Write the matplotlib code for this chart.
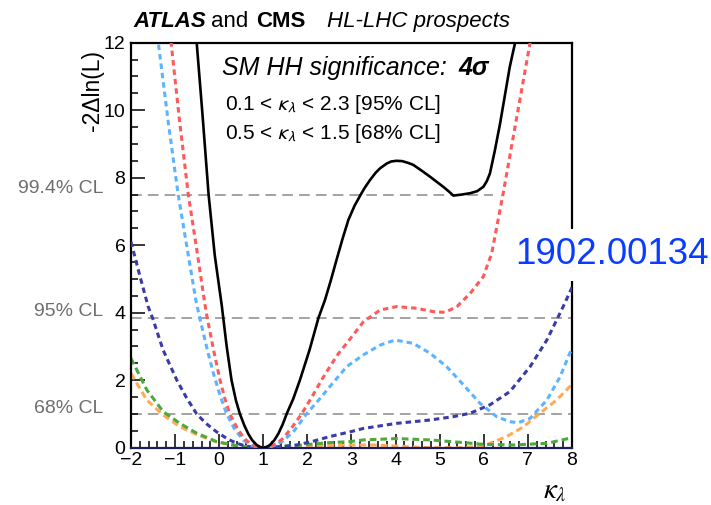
import matplotlib
matplotlib.use("Agg")
import matplotlib.pyplot as plt
from matplotlib.ticker import MultipleLocator

plt.rcParams["font.family"] = ["Liberation Sans", "DejaVu Sans"]

# ----------------------------
# Likelihood scan values
# ----------------------------
k_black = [-0.56, -0.51, -0.38, -0.24, -0.10, 0.06, 0.17, 0.28, 0.38, 0.47, 0.57, 0.66,
           0.75, 0.85, 0.93, 1.0, 1.07, 1.15, 1.25, 1.34, 1.44, 1.53, 1.68, 1.83, 2.05,
           2.25, 2.40, 2.53, 2.66, 2.80, 2.93, 3.07, 3.21, 3.30, 3.42, 3.55, 3.65, 3.80,
           3.90, 4.02, 4.15, 4.28, 4.40, 4.60, 4.78, 4.95, 5.08, 5.20, 5.31, 5.50, 5.69,
           5.85, 5.99, 6.07, 6.14, 6.25, 6.37, 6.48, 6.59, 6.71, 6.76]
y_black = [12.5, 12.0, 9.9, 7.5, 5.7, 4.2, 3.0, 2.0, 1.4, 1.0, 0.66, 0.41,
           0.22, 0.08, 0.02, 0.0, 0.02, 0.08, 0.22, 0.41, 0.69, 1.0, 1.45, 2.0, 2.9,
           3.84, 4.38, 4.95, 5.56, 6.2, 6.75, 7.17, 7.5, 7.7, 7.93, 8.15, 8.28, 8.42,
           8.48, 8.50, 8.49, 8.44, 8.38, 8.2, 8.03, 7.86, 7.73, 7.6, 7.47, 7.5, 7.54,
           7.6, 7.73, 7.9, 8.13, 8.8, 9.61, 10.45, 11.29, 12.0, 12.4]

k_red = [-1.15, -1.09, -0.90, -0.70, -0.50, -0.33, -0.27, -0.12, 0.02, 0.13, 0.24, 0.40,
         0.55, 0.70, 0.85, 1.0, 1.15, 1.30, 1.45, 1.65, 1.87, 2.10, 2.32, 2.51, 2.70,
         2.89, 3.27, 3.65, 4.02, 4.48, 4.86, 5.12, 5.39, 5.69, 5.99, 6.18, 6.44, 6.75,
         7.05, 7.10]
y_red = [12.6, 12.0, 9.7, 7.5, 5.8, 4.3, 3.84, 2.85, 2.0, 1.45, 1.0, 0.6,
         0.3, 0.12, 0.03, 0.0, 0.03, 0.12, 0.28, 0.6, 1.0, 1.5, 2.0, 2.4, 2.78,
         3.09, 3.73, 4.08, 4.18, 4.13, 4.03, 4.01, 4.18, 4.57, 5.07, 5.76, 7.54, 9.81,
         12.0, 12.4]

k_lblue = [-1.42, -1.38, -1.15, -0.93, -0.70, -0.53, -0.44, -0.25, -0.13, 0.02, 0.17, 0.35,
           0.55, 0.75, 0.90, 1.0, 1.10, 1.25, 1.45, 1.70, 1.98, 2.25, 2.51, 2.89, 3.27,
           3.65, 3.99, 4.40, 4.78, 5.16, 5.54, 5.91, 6.29, 6.59, 6.78, 7.05, 7.43, 7.73,
           7.95, 8.0]
y_lblue = [12.5, 12.0, 9.6, 7.5, 5.7, 4.38, 3.84, 2.8, 2.2, 1.55, 1.0, 0.55,
           0.22, 0.06, 0.01, 0.0, 0.01, 0.06, 0.2, 0.5, 1.0, 1.4, 1.81, 2.40, 2.75,
           3.04, 3.19, 3.09, 2.80, 2.40, 1.86, 1.32, 0.92, 0.77, 0.74, 0.87, 1.41, 2.10,
           2.80, 2.95]

k_dblue = [-2.0, -1.80, -1.61, -1.51, -1.27, -0.96, -0.75, -0.51, -0.30, -0.06, 0.20, 0.40,
           0.60, 0.80, 1.0, 1.2, 1.4, 1.76, 2.10, 2.51, 2.97, 3.27, 4.02, 4.78, 5.31,
           5.69, 6.14, 6.59, 7.05, 7.43, 7.80, 8.0]
y_dblue = [6.1, 5.1, 4.18, 3.84, 2.89, 2.0, 1.5, 1.0, 0.72, 0.47, 0.25, 0.13,
           0.05, 0.01, 0.0, 0.01, 0.03, 0.08, 0.18, 0.33, 0.47, 0.57, 0.72, 0.82, 0.92,
           1.02, 1.27, 1.66, 2.40, 3.19, 4.18, 4.75]

k_green = [-2.0, -1.64, -1.27, -0.89, -0.51, -0.06, 0.47, 1.0, 1.76, 2.51, 2.97, 3.27,
           4.02, 4.78, 5.54, 5.99, 6.67, 7.43, 7.95, 8.0]
y_green = [2.65, 1.71, 1.07, 0.72, 0.43, 0.18, 0.04, 0.0, 0.07, 0.15, 0.18, 0.23,
           0.27, 0.23, 0.15, 0.10, 0.08, 0.13, 0.28, 0.32]

k_orange = [-2.0, -1.64, -1.27, -0.89, -0.51, -0.06, 0.47, 1.0, 2.0, 3.0, 3.5, 4.0,
            4.5, 5.0, 5.5, 6.0, 6.14, 6.52, 6.90, 7.27, 7.65, 7.95, 8.0]
y_orange = [2.2, 1.41, 0.97, 0.62, 0.39, 0.17, 0.04, 0.0, 0.05, 0.08, 0.08, 0.05,
            0.01, 0.0, 0.0, 0.05, 0.13, 0.33, 0.62, 1.02, 1.41, 1.81, 1.87]

cl_levels = [1.0, 3.84, 7.5]
cl_labels = ["68% CL", "95% CL", "99.4% CL"]
cl_label_y = [1.17, 4.03, 7.67]
cl_line_end = [8.0, 8.0, 6.21]

x_ticks = [-2, -1, 0, 1, 2, 3, 4, 5, 6, 7, 8]
y_ticks = [0, 2, 4, 6, 8, 10, 12]

# ----------------------------
# Figure
# ----------------------------
fig = plt.figure(figsize=(7.11, 5.05), dpi=100)
ax = fig.add_axes([0.1842, 0.1135, 0.6203, 0.8020])

# confidence level reference lines
for lev, xend in zip(cl_levels, cl_line_end):
    ax.plot([-2, xend], [lev, lev], color="#8a8a8a", lw=1.1, dashes=(7, 4), zorder=1)
for lab, ly in zip(cl_labels, cl_label_y):
    ax.text(-0.062, ly, lab, transform=ax.get_yaxis_transform(), ha="right", va="center",
            fontsize=14, color="#6e6e6e")

ax.plot(k_orange, y_orange, color="#ffaa55", lw=2.2, dashes=(2.2, 1.3), zorder=2)
ax.plot(k_green, y_green, color="#4fa83d", lw=2.2, dashes=(2.2, 1.3), zorder=2)
ax.plot(k_dblue, y_dblue, color="#3a3aa8", lw=2.2, dashes=(1.8, 1.3), zorder=3)
ax.plot(k_lblue, y_lblue, color="#5cb3ff", lw=2.2, dashes=(1.8, 1.3), zorder=3)
ax.plot(k_red, y_red, color="#ff5a5a", lw=2.2, dashes=(1.8, 1.3), zorder=3)
ax.plot(k_black, y_black, color="black", lw=1.9, zorder=4)

ax.set_xlim(-2, 8)
ax.set_ylim(0, 12)
ax.set_xticks(x_ticks)
ax.set_yticks(y_ticks)
ax.set_xticklabels([str(t).replace("-", "\u2212") for t in x_ticks])
ax.xaxis.set_minor_locator(MultipleLocator(0.2))
ax.yaxis.set_minor_locator(MultipleLocator(0.5))
ax.tick_params(which="both", direction="in", labelsize=14, width=1.1)
ax.tick_params(which="major", length=10)
ax.tick_params(which="minor", length=5)
ax.tick_params(axis="x", pad=3)
ax.tick_params(axis="y", pad=4)
for s in ax.spines.values():
    s.set_linewidth(1.6)
ax.spines["bottom"].set_color("#1c1c5c")

# texts inside the frame
ax.text(0.2057, 0.9198, "SM HH significance: ", transform=ax.transAxes, fontsize=18,
        style="italic", va="baseline")
ax.text(0.7415, 0.9198, "4\u03c3", transform=ax.transAxes, fontsize=18,
        style="italic", weight="bold", va="baseline")
ax.text(0.2132, 0.8338, r"0.1 < $\kappa_\lambda$ < 2.3 [95% CL]", transform=ax.transAxes,
        fontsize=15, va="baseline", math_fontfamily="stixsans")
ax.text(0.2132, 0.7615, r"0.5 < $\kappa_\lambda$ < 1.5 [68% CL]", transform=ax.transAxes,
        fontsize=15, va="baseline", math_fontfamily="stixsans")

# arXiv number over the right frame
ax.text(6.71, 5.71, "1902.00134", fontsize=26.5, color="#0a3cff", va="center", ha="left",
        clip_on=False, zorder=6,
        bbox=dict(facecolor="white", edgecolor="none", pad=6))

# header
fig.text(133 / 711, 1 - 27 / 505, "ATLAS", fontsize=16, weight="bold", style="italic",
         va="baseline")
fig.text(211 / 711, 1 - 27 / 505, "and", fontsize=16, va="baseline")
fig.text(256 / 711, 1 - 27 / 505, "CMS", fontsize=16, weight="bold", va="baseline")
fig.text(327 / 711, 1 - 27 / 505, "HL-LHC prospects", fontsize=16, style="italic",
         va="baseline")

# axis titles
fig.text(92 / 711, 1 - 50 / 505, "-2\u0394ln(L)", rotation=90, fontsize=16.5,
         ha="center", va="top")
fig.text(567 / 711, 1 - 498 / 505, r"$\kappa_\lambda$", fontsize=21, ha="right",
         va="baseline", math_fontfamily="stix")

fig.savefig("out.png", dpi=100)
